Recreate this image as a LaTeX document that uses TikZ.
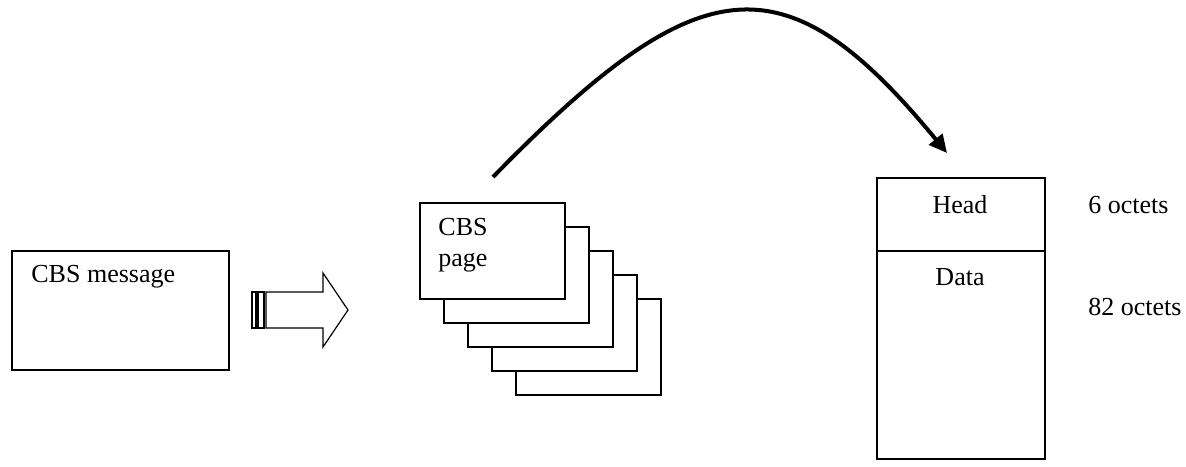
\documentclass[tikz,border=0pt]{standalone}
\usepackage{fontspec}
\setmainfont{Liberation Serif}
\usetikzlibrary{arrows.meta}
\begin{document}
\begin{tikzpicture}[x=0.5pt,y=-0.5pt,
  box/.style={draw=black,line width=1pt,fill=white,inner sep=0pt,anchor=north west},
  pagebox/.style={box,minimum width=72.5pt,minimum height=48pt},
  lbl/.style={font=\fontsize{13pt}{15pt}\selectfont,inner sep=0pt,anchor=base west},
  clbl/.style={font=\fontsize{13pt}{15pt}\selectfont,inner sep=0pt,anchor=base},
  blk/.style={line width=0.6pt}]
\useasboundingbox (0,0) rectangle (1186,466);
% CBS message
\node[box,minimum width=108.5pt,minimum height=59.5pt] (msg) at (11,250) {};
\node[lbl] (msgt) at (31,282) {CBS message};
% block arrow
\draw[blk] (252,292) rectangle (256,328);
\draw[blk] (258,292) rectangle (264,328);
\draw[blk] (266,292) -- (323,292) -- (323,273) -- (348,310) -- (323,347) -- (323,328) -- (266,328) -- cycle;
% pages
\node[pagebox] (p5) at (515,298) {};
\node[pagebox] (p4) at (491,274) {};
\node[pagebox] (p3) at (467,250) {};
\node[pagebox] (p2) at (443,226) {};
\node[pagebox] (p1) at (419,202) {};
\node[lbl] (pt1) at (438,235) {CBS};
\node[lbl] (pt2) at (438,266) {page};
% right box
\node[box,minimum width=84pt,minimum height=36.5pt] (head) at (876,177) {};
\node[box,minimum width=84pt,minimum height=104pt] (data) at (876,250) {};
\node[clbl] (headt) at (960,213) {Head};
\node[clbl] (datat) at (960,285) {Data};
\node[lbl] (o6) at (1088,213) {6 octets};
\node[lbl] (o82) at (1088,315) {82 octets};
% curve
\coordinate (cs) at (493,177);
\coordinate (ce) at (947,153);
\draw[line width=2pt,-{Triangle[length=9pt,width=8.5pt]}] (cs) .. controls (700,-35) and (785,-44) .. (ce);
\end{tikzpicture}
\end{document}
